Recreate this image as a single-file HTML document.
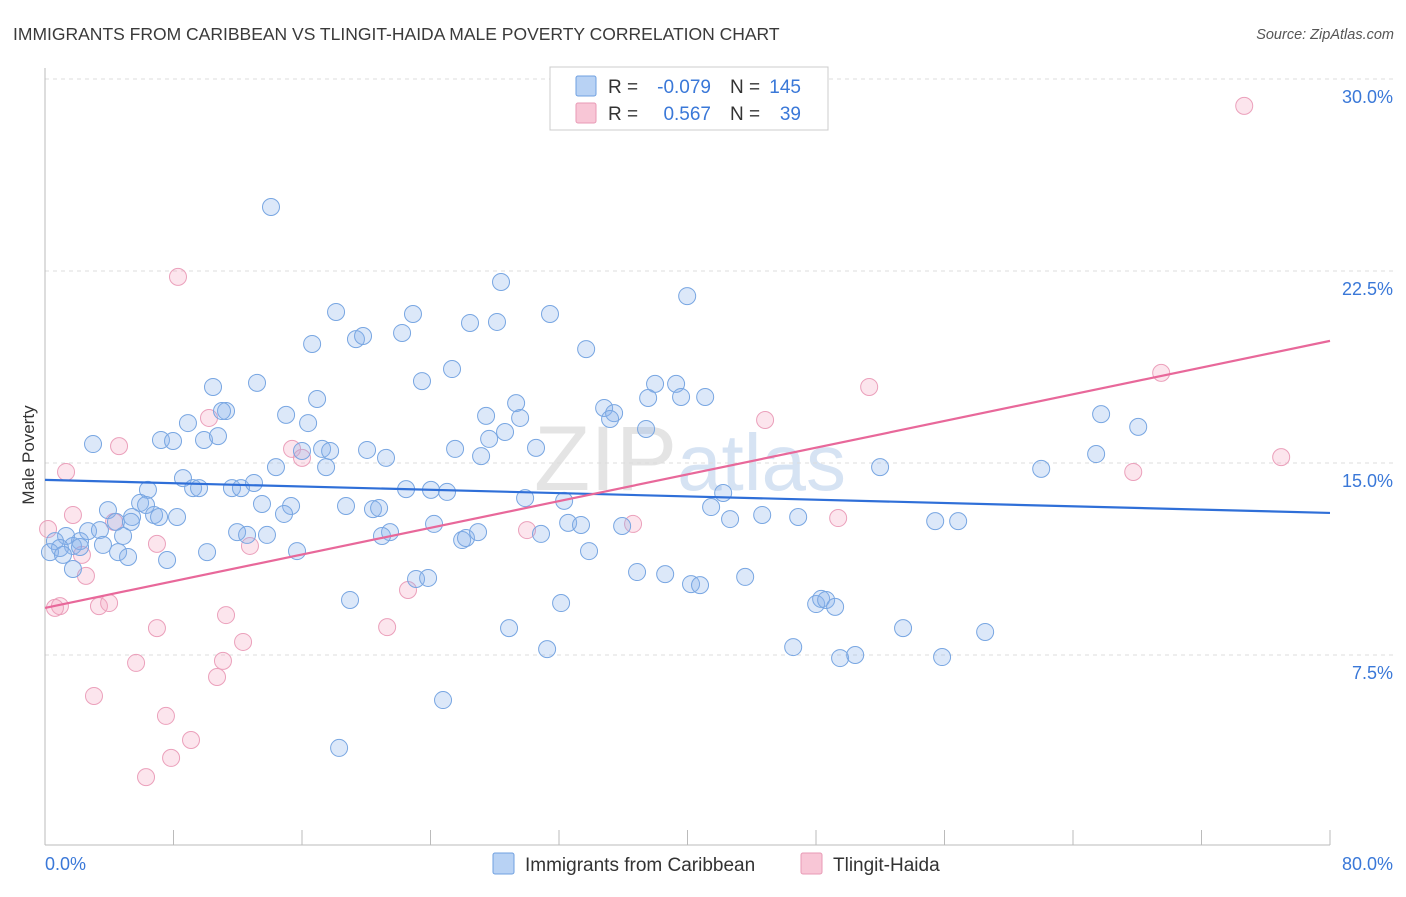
<!DOCTYPE html>
<html><head><meta charset="utf-8"><style>
body{margin:0;background:#fff;font-family:"Liberation Sans",sans-serif;}
svg text{font-family:"Liberation Sans",sans-serif;}
</style></head><body>
<svg id="chart" width="1406" height="892">
<text x="13" y="40" font-size="17.5" fill="#3a3a3a">IMMIGRANTS FROM CARIBBEAN VS TLINGIT-HAIDA MALE POVERTY CORRELATION CHART</text>
<text x="1394" y="39" font-size="14.5" fill="#555" font-style="italic" text-anchor="end">Source: ZipAtlas.com</text>
<text x="690" y="490" font-size="92" fill="#e4e4e4" text-anchor="middle" font-family="Liberation Serif">ZIP<tspan fill="#d6e3f3" font-family="Liberation Sans" font-size="80">atlas</tspan></text>
<g id="grid"></g><g id="axes"></g><g id="marks"></g>
<text x="34" y="455" font-size="17" fill="#333" text-anchor="middle" transform="rotate(-90 34 455)">Male Poverty</text>
<g>
<rect x="550" y="67" width="278" height="63" fill="#fff" stroke="#ccc"/>
<rect x="576" y="76" width="20" height="20" fill="#b8d2f4" stroke="#6fa0e0" rx="2"/>
<rect x="576" y="103" width="20" height="20" fill="#f8c6d6" stroke="#e89ab5" rx="2"/>
<text x="608" y="93" font-size="19" fill="#333">R =</text>
<text x="711" y="93" font-size="19" fill="#3a78d8" text-anchor="end">-0.079</text>
<text x="730" y="93" font-size="19" fill="#333">N =</text>
<text x="801" y="93" font-size="19" fill="#3a78d8" text-anchor="end">145</text>
<text x="608" y="120" font-size="19" fill="#333">R =</text>
<text x="711" y="120" font-size="19" fill="#3a78d8" text-anchor="end">0.567</text>
<text x="730" y="120" font-size="19" fill="#333">N =</text>
<text x="801" y="120" font-size="19" fill="#3a78d8" text-anchor="end">39</text>
</g>
<g>
<rect x="493" y="853" width="21" height="21" fill="#b8d2f4" stroke="#6fa0e0" rx="2"/>
<text x="525" y="871" font-size="19" fill="#333">Immigrants from Caribbean</text>
<rect x="801" y="853" width="21" height="21" fill="#f8c6d6" stroke="#e89ab5" rx="2"/>
<text x="833" y="871" font-size="19" fill="#333">Tlingit-Haida</text>
</g>
</svg>
<script>
const yTicks=[7.5,15,22.5,30];
const yTickLabels=["7.5%","15.0%","22.5%","30.0%"];
const xTicks=[0,8,16,24,32,40,48,56,64,72,80];
const xEndLabels=["0.0%","80.0%"];
const blueX=[14.07,28.39,39.98,18.12,22.91,31.44,26.46,28.14,19.36,19.8,22.23,16.63,33.69,25.34,23.47,10.46,13.2,37.98,39.29,16.94,29.33,37.55,39.6,41.1,11.27,11.02,8.9,15.01,16.38,34.81,35.43,35.18,27.46,29.58,37.42,7.22,7.97,9.9,10.77,2.99,17.25,17.75,20.05,25.53,30.57,28.64,27.65,21.23,27.15,16,17.5,14.38,51.99,62.02,65.44,65.75,68.06,8.59,9.22,9.59,6.41,11.64,12.2,13.01,22.48,24.03,25.03,29.89,32.32,42.22,5.92,6.29,3.92,13.51,15.32,18.74,20.42,20.8,14.88,5.42,6.79,7.1,8.22,4.42,5.35,41.47,42.65,44.65,46.89,55.42,56.85,24.22,32.57,33.37,35.93,2.68,3.42,1.31,2.18,0.62,11.96,12.58,13.82,21.48,20.98,25.97,26.21,26.96,30.88,3.61,4.86,1.74,2.18,0.93,0.31,1.12,4.55,5.17,7.6,10.09,15.69,33.87,1.74,23.1,23.85,36.86,38.61,40.22,40.78,43.59,18.99,32.13,48.01,48.32,48.63,49.19,53.42,58.53,28.89,31.26,46.58,49.5,50.44,55.85,24.78,18.31];
const blueY=[25,22.07,21.52,20.9,20.82,20.82,20.47,20.51,19.84,19.96,20.08,19.65,19.45,18.67,18.2,17.97,18.13,18.09,18.09,17.5,17.34,17.54,17.58,17.58,17.03,17.03,16.56,16.88,16.56,17.15,16.95,16.72,16.84,16.76,16.33,15.9,15.86,15.9,16.05,15.74,15.55,15.47,15.51,15.55,15.59,16.21,15.94,15.2,15.27,15.47,14.84,14.84,14.84,14.77,15.35,16.91,16.41,14.41,14.02,14.02,13.95,14.02,14.02,14.22,13.98,13.95,13.87,13.63,13.52,13.83,13.44,13.36,13.16,13.4,13.32,13.32,13.2,13.24,13.01,12.89,12.97,12.89,12.89,12.7,12.7,13.28,12.81,12.97,12.89,12.73,12.73,12.62,12.66,12.58,12.54,12.34,12.38,12.15,11.95,11.95,12.3,12.19,12.19,12.3,12.15,11.99,12.07,12.3,12.23,11.8,12.15,11.76,11.72,11.68,11.52,11.41,11.52,11.33,11.21,11.52,11.56,11.56,10.86,10.47,10.51,10.74,10.66,10.27,10.23,10.55,9.65,9.53,9.49,9.69,9.65,9.38,8.55,8.4,8.55,7.73,7.81,7.38,7.5,7.42,5.74,3.87];
const pinkX=[74.66,8.28,51.31,69.49,10.21,44.83,4.61,15.38,16,76.96,67.75,1.31,1.74,4.3,0.19,6.97,12.76,2.3,49.38,36.61,30.01,2.55,22.6,0.93,0.62,3.36,3.99,11.27,6.97,21.3,12.33,5.67,11.08,10.71,3.05,7.53,9.09,7.85,6.29];
const pinkY=[28.95,22.27,17.97,18.52,16.76,16.68,15.66,15.55,15.2,15.23,14.65,14.65,12.97,12.7,12.42,11.84,11.76,11.41,12.85,12.62,12.38,10.59,10.04,9.41,9.34,9.41,9.53,9.06,8.55,8.59,8.01,7.19,7.27,6.64,5.9,5.12,4.18,3.48,2.73];
const blueTrend=[14.34,13.05];
const pinkTrend=[9.34,19.77];
const trendX=[0,80];

const NS="http://www.w3.org/2000/svg";
const X0=45,X1=1330,Y0=847,PX_PER_Y=25.6;
function sx(v){return X0+(X1-X0)*v/80;}
function sy(v){return Y0-v*PX_PER_Y;}
function mk(tag,attrs,parent){const e=document.createElementNS(NS,tag);for(const k in attrs)e.setAttribute(k,attrs[k]);parent.appendChild(e);return e;}
const gridG=document.getElementById('grid'),axesG=document.getElementById('axes'),marksG=document.getElementById('marks');
yTicks.forEach((t,i)=>{
 const l=mk('line',{x1:X0,x2:1394,y1:sy(t),y2:sy(t),stroke:'#dcdcdc','stroke-dasharray':'4,4'},gridG);
 
 
 const tx=mk('text',{x:1393,y:sy(t)+24,'font-size':18,fill:'#3a78d8','text-anchor':'end'},axesG);
 tx.textContent=yTickLabels[i];
 
 
});
const topGrid=mk('line',{x1:X0,x2:1394,y1:79,y2:79,stroke:'#dcdcdc','stroke-dasharray':'4,4'},gridG);


const ya=mk('line',{x1:X0,x2:X0,y1:68,y2:845,stroke:'#bbb'},axesG);


const xa=mk('line',{x1:X0,x2:X1,y1:845,y2:845,stroke:'#bbb'},axesG);


xTicks.forEach(t=>{const l=mk('line',{x1:sx(t),x2:sx(t),y1:830,y2:845,stroke:'#bbb'},axesG);
 
 });
const xl0=mk('text',{x:45,y:870,'font-size':18,fill:'#3a78d8'},axesG);xl0.textContent=xEndLabels[0];


const xl1=mk('text',{x:1393,y:870,'font-size':18,fill:'#3a78d8','text-anchor':'end'},axesG);xl1.textContent=xEndLabels[1];


pinkX.forEach((v,i)=>{const c=mk('circle',{cx:sx(v),cy:sy(pinkY[i]),r:8.5,fill:'rgba(244,170,196,0.3)',stroke:'#eba0bb','stroke-width':1},marksG);
 
 });
blueX.forEach((v,i)=>{const c=mk('circle',{cx:sx(v),cy:sy(blueY[i]),r:8.5,fill:'rgba(140,180,235,0.3)',stroke:'#78a6e2','stroke-width':1},marksG);
 
 });
const bt=mk('line',{x1:sx(trendX[0]),y1:sy(blueTrend[0]),x2:sx(trendX[1]),y2:sy(blueTrend[1]),stroke:'#2f6fd8','stroke-width':2.2},marksG);


const pt=mk('line',{x1:sx(trendX[0]),y1:sy(pinkTrend[0]),x2:sx(trendX[1]),y2:sy(pinkTrend[1]),stroke:'#e8689a','stroke-width':2.2},marksG);


</script>
</body></html>
